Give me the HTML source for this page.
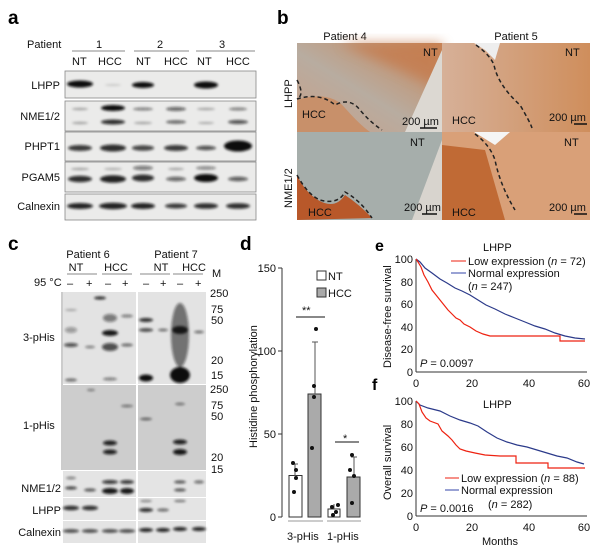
<!DOCTYPE html>
<html><head><meta charset="utf-8"><style>
html,body{margin:0;padding:0;background:#fff;}
svg{display:block;font-family:"Liberation Sans",Arial,sans-serif;}
</style></head><body>
<svg width="600" height="556" viewBox="0 0 600 556" xmlns="http://www.w3.org/2000/svg">
<defs>
<filter id="bl" x="-50%" y="-200%" width="200%" height="500%"><feGaussianBlur stdDeviation="1.3"/></filter>
<filter id="bl2" x="-20%" y="-20%" width="140%" height="140%"><feGaussianBlur stdDeviation="6"/></filter>
<linearGradient id="t1" x1="0" y1="1" x2="1" y2="0"><stop offset="0" stop-color="#c9a088"/><stop offset="0.45" stop-color="#b8aca0"/><stop offset="1" stop-color="#c98658"/></linearGradient>
<linearGradient id="t2" x1="0" y1="0" x2="1" y2="0"><stop offset="0" stop-color="#d6b098"/><stop offset="1" stop-color="#cf8e5c"/></linearGradient>
</defs>
<g fill="#000">
<text x="8" y="24" font-size="19" font-weight="bold">a</text>
<text x="277" y="24" font-size="19" font-weight="bold">b</text>
<text x="8" y="250" font-size="19" font-weight="bold">c</text>
<text x="240" y="250" font-size="19" font-weight="bold">d</text>
<text x="375" y="251" font-size="16" font-weight="bold">e</text>
<text x="372" y="390" font-size="16" font-weight="bold">f</text>
</g>
<!-- Panel a -->
<g font-size="11" fill="#111">
<text x="27" y="48">Patient</text>
<text x="96" y="48">1</text><text x="157" y="48">2</text><text x="219" y="48">3</text>
<line x1="72" y1="51" x2="125" y2="51" stroke="#888"/>
<line x1="134" y1="51" x2="189" y2="51" stroke="#888"/>
<line x1="196" y1="51" x2="255" y2="51" stroke="#888"/>
<text x="72" y="65">NT</text><text x="98" y="65">HCC</text>
<text x="136" y="65">NT</text><text x="164" y="65">HCC</text>
<text x="197" y="65">NT</text><text x="226" y="65">HCC</text>
<text x="60" y="89" text-anchor="end">LHPP</text>
<text x="60" y="120" text-anchor="end">NME1/2</text>
<text x="60" y="150" text-anchor="end">PHPT1</text>
<text x="60" y="181" text-anchor="end">PGAM5</text>
<text x="60" y="210" text-anchor="end">Calnexin</text>
</g>
<g fill="#ebebea" stroke="#888" stroke-width="0.8">
<rect x="65" y="71" width="191" height="27"/>
<rect x="65" y="101" width="191" height="30"/>
<rect x="65" y="132" width="191" height="29"/>
<rect x="65" y="162" width="191" height="30"/>
<rect x="65" y="194" width="191" height="26"/>
</g>
<g filter="url(#bl)" fill="#111">
<ellipse cx="80" cy="84" rx="13" ry="3.5"/><ellipse cx="143" cy="85" rx="11" ry="3"/><ellipse cx="206" cy="85" rx="12" ry="3.5"/>
<ellipse cx="113" cy="85" rx="8" ry="1" opacity="0.15"/>
<ellipse cx="80" cy="109" rx="8" ry="1.2" opacity="0.3"/><ellipse cx="113" cy="108" rx="12" ry="3"/>
<ellipse cx="143" cy="109" rx="10" ry="1.5" opacity="0.5"/><ellipse cx="176" cy="109" rx="10" ry="2" opacity="0.6"/>
<ellipse cx="206" cy="109" rx="9" ry="1.2" opacity="0.3"/><ellipse cx="238" cy="109" rx="9" ry="1.5" opacity="0.5"/>
<ellipse cx="80" cy="123" rx="8" ry="1.2" opacity="0.3"/><ellipse cx="113" cy="122" rx="12" ry="2.5" opacity="0.85"/>
<ellipse cx="143" cy="123" rx="9" ry="1.2" opacity="0.3"/><ellipse cx="176" cy="122" rx="10" ry="1.8" opacity="0.6"/>
<ellipse cx="206" cy="123" rx="8" ry="1" opacity="0.3"/><ellipse cx="238" cy="122" rx="10" ry="2" opacity="0.7"/>
<ellipse cx="80" cy="148" rx="12" ry="3" opacity="0.8"/><ellipse cx="113" cy="148" rx="13" ry="3.5" opacity="0.85"/>
<ellipse cx="143" cy="148" rx="11" ry="2.8" opacity="0.75"/><ellipse cx="176" cy="148" rx="12" ry="3" opacity="0.8"/>
<ellipse cx="206" cy="148" rx="10" ry="2.2" opacity="0.7"/><ellipse cx="238" cy="146" rx="14" ry="5.5"/>
<ellipse cx="80" cy="169" rx="9" ry="1.2" opacity="0.3"/><ellipse cx="113" cy="169" rx="9" ry="1.2" opacity="0.25"/>
<ellipse cx="143" cy="168" rx="10" ry="2.3" opacity="0.5"/><ellipse cx="176" cy="169" rx="8" ry="1.2" opacity="0.3"/>
<ellipse cx="206" cy="168" rx="10" ry="1.8" opacity="0.45"/>
<ellipse cx="80" cy="179" rx="12" ry="3.2" opacity="0.85"/><ellipse cx="113" cy="179" rx="13" ry="3.8" opacity="0.9"/>
<ellipse cx="143" cy="178" rx="11" ry="3.5" opacity="0.85"/><ellipse cx="176" cy="179" rx="10" ry="2.2" opacity="0.6"/>
<ellipse cx="206" cy="178" rx="12" ry="4"/><ellipse cx="238" cy="179" rx="10" ry="2.2" opacity="0.65"/>
<ellipse cx="80" cy="206" rx="13" ry="3" opacity="0.9"/><ellipse cx="113" cy="206" rx="14" ry="3.2" opacity="0.9"/>
<ellipse cx="143" cy="206" rx="12" ry="3" opacity="0.9"/><ellipse cx="176" cy="206" rx="11" ry="2.5" opacity="0.8"/>
<ellipse cx="206" cy="206" rx="12" ry="2.8" opacity="0.85"/><ellipse cx="238" cy="206" rx="12" ry="2.8" opacity="0.85"/>
</g>
<!-- Panel b -->
<g font-size="11" fill="#111">
<text x="345" y="40" text-anchor="middle">Patient 4</text>
<text x="516" y="40" text-anchor="middle">Patient 5</text>
<text transform="translate(292,108) rotate(-90)">LHPP</text>
<text transform="translate(292,208) rotate(-90)">NME1/2</text>
</g>
<rect x="297" y="43" width="145" height="89" fill="url(#t1)"/>
<path d="M340,43 L442,43 L442,90 L400,70Z" fill="#c5784a" opacity="0.7" filter="url(#bl2)"/>
<polygon points="405,132 442,50 442,132" fill="#dcd8d2"/>
<path d="M297,100 Q330,90 345,108 Q360,125 370,132 L297,132Z" fill="#c8906a"/>
<path d="M297,80 Q305,95 297,99 Q320,92 335,105 Q350,97 360,110 Q370,122 382,130" fill="none" stroke="#222" stroke-width="1.5" stroke-dasharray="4,3"/>
<rect x="442" y="43" width="148" height="89" fill="url(#t2)"/>
<polygon points="474,43 500,43 495,60 485,50" fill="#eee"/>
<path d="M476,45 Q490,55 494,65 Q498,85 520,105 Q530,122 532,128" fill="none" stroke="#222" stroke-width="1.5" stroke-dasharray="4,3"/>
<rect x="297" y="132" width="145" height="88" fill="#a6aeab"/>
<path d="M297,175 Q305,192 318,200 Q335,210 345,195 Q360,205 372,218 L297,220Z" fill="#b8582a"/>
<path d="M297,175 Q308,195 320,200 Q338,205 345,192 Q360,200 372,218" fill="none" stroke="#222" stroke-width="1.5" stroke-dasharray="4,3"/>
<polygon points="412,220 442,140 442,220" fill="#d8d4ce"/>
<rect x="442" y="132" width="148" height="88" fill="#d9a078"/>
<path d="M442,145 L485,150 L505,220 L442,220Z" fill="#c06a35"/>
<polygon points="474,132 510,132 495,145" fill="#f5f5f5"/>
<path d="M475,134 Q490,145 495,160 Q500,185 515,210" fill="none" stroke="#222" stroke-width="1.5" stroke-dasharray="4,3"/>
<g font-size="11" fill="#111">
<text x="423" y="56">NT</text><text x="565" y="56">NT</text>
<text x="302" y="118">HCC</text><text x="452" y="124">HCC</text>
<text x="402" y="125">200 µm</text><text x="549" y="121">200 µm</text>
<text x="410" y="146">NT</text><text x="564" y="146">NT</text>
<text x="308" y="216">HCC</text><text x="452" y="216">HCC</text>
<text x="404" y="211">200 µm</text><text x="549" y="211">200 µm</text>
</g>
<g stroke="#111" stroke-width="1.5"><line x1="420" y1="128" x2="437" y2="128"/><line x1="574" y1="124" x2="587" y2="124"/><line x1="422" y1="214" x2="437" y2="214"/><line x1="574" y1="214" x2="587" y2="214"/></g>
<!-- Panel c -->
<g font-size="11" fill="#111">
<text x="88" y="258" text-anchor="middle">Patient 6</text>
<text x="176" y="258" text-anchor="middle">Patient 7</text>
<text x="76" y="271" text-anchor="middle">NT</text><text x="116" y="271" text-anchor="middle">HCC</text>
<text x="161" y="271" text-anchor="middle">NT</text><text x="194" y="271" text-anchor="middle">HCC</text>
<line x1="67" y1="274" x2="97" y2="274" stroke="#888"/><line x1="102" y1="274" x2="132" y2="274" stroke="#888"/>
<line x1="140" y1="274" x2="170" y2="274" stroke="#888"/><line x1="173" y1="274" x2="203" y2="274" stroke="#888"/>
<text x="34" y="286">95 °C</text>
<text x="67" y="287">–</text><text x="86" y="287">+</text><text x="105" y="287">–</text><text x="122" y="287">+</text>
<text x="143" y="287">–</text><text x="160" y="287">+</text><text x="177" y="287">–</text><text x="195" y="287">+</text>
<text x="212" y="277">M</text>
<text x="23" y="341">3-pHis</text><text x="23" y="429">1-pHis</text>
<text x="61" y="492" text-anchor="end">NME1/2</text>
<text x="61" y="514" text-anchor="end">LHPP</text>
<text x="61" y="536" text-anchor="end">Calnexin</text>
</g>
<line x1="62" y1="292" x2="62" y2="470" stroke="#999"/>
<g fill="#e3e3e3"><rect x="63" y="292" width="73" height="92"/><rect x="138" y="292" width="68" height="92"/></g>
<g fill="#cdcdcd"><rect x="63" y="385" width="73" height="85"/><rect x="138" y="385" width="68" height="85"/></g>
<g fill="#e4e4e4"><rect x="63" y="471" width="73" height="26"/><rect x="138" y="471" width="68" height="26"/>
<rect x="63" y="498" width="73" height="22"/><rect x="138" y="498" width="68" height="22"/>
<rect x="63" y="521" width="73" height="22"/><rect x="138" y="521" width="68" height="22"/></g>
<g filter="url(#bl)" fill="#111">
<ellipse cx="71" cy="310" rx="6" ry="1" opacity="0.3"/><ellipse cx="71" cy="330" rx="6" ry="3" opacity="0.35"/>
<ellipse cx="71" cy="345" rx="7" ry="2" opacity="0.7"/><ellipse cx="90" cy="347" rx="5" ry="1.2" opacity="0.5"/>
<ellipse cx="71" cy="380" rx="6" ry="1.5" opacity="0.6"/><ellipse cx="100" cy="298" rx="6" ry="1.5" opacity="0.9"/>
<ellipse cx="110" cy="318" rx="7" ry="4" opacity="0.5"/><ellipse cx="110" cy="333" rx="8" ry="3" opacity="0.95"/>
<ellipse cx="110" cy="347" rx="8" ry="4" opacity="0.7"/><ellipse cx="110" cy="379" rx="7" ry="1.5" opacity="0.5"/>
<ellipse cx="127" cy="316" rx="6" ry="1.5" opacity="0.5"/><ellipse cx="127" cy="345" rx="6" ry="1.5" opacity="0.6"/>
<ellipse cx="146" cy="320" rx="7" ry="2" opacity="0.85"/><ellipse cx="146" cy="330" rx="7" ry="1.8" opacity="0.75"/>
<ellipse cx="146" cy="378" rx="7" ry="3.5"/><ellipse cx="163" cy="330" rx="5" ry="1.2" opacity="0.6"/>
<ellipse cx="180" cy="335" rx="9" ry="32" opacity="0.55"/><ellipse cx="180" cy="375" rx="10" ry="8"/>
<ellipse cx="180" cy="330" rx="8" ry="4" opacity="0.9"/><ellipse cx="199" cy="332" rx="5" ry="1.2" opacity="0.6"/>
<ellipse cx="91" cy="390" rx="4" ry="1" opacity="0.5"/><ellipse cx="110" cy="443" rx="7" ry="2.5" opacity="0.9"/>
<ellipse cx="110" cy="452" rx="7" ry="2.5" opacity="0.9"/><ellipse cx="127" cy="406" rx="6" ry="1.2" opacity="0.5"/>
<ellipse cx="146" cy="419" rx="6" ry="1.3" opacity="0.6"/><ellipse cx="180" cy="442" rx="7" ry="2.5" opacity="0.9"/>
<ellipse cx="180" cy="452" rx="7" ry="3" opacity="0.95"/><ellipse cx="180" cy="404" rx="5" ry="1.2" opacity="0.5"/>
<ellipse cx="71" cy="478" rx="5" ry="1.2" opacity="0.5"/><ellipse cx="71" cy="488" rx="6" ry="1.5" opacity="0.8"/>
<ellipse cx="90" cy="490" rx="6" ry="1.5" opacity="0.7"/><ellipse cx="110" cy="482" rx="8" ry="2" opacity="0.8"/>
<ellipse cx="110" cy="491" rx="8" ry="3" opacity="0.95"/><ellipse cx="127" cy="482" rx="7" ry="2" opacity="0.8"/>
<ellipse cx="127" cy="491" rx="7" ry="3" opacity="0.95"/><ellipse cx="180" cy="482" rx="6" ry="1.5" opacity="0.7"/>
<ellipse cx="180" cy="490" rx="6" ry="1.5" opacity="0.7"/><ellipse cx="199" cy="482" rx="5" ry="1.5" opacity="0.6"/>
<ellipse cx="71" cy="508" rx="8" ry="2.3" opacity="0.85"/><ellipse cx="90" cy="508" rx="8" ry="2.3" opacity="0.85"/>
<ellipse cx="146" cy="510" rx="7" ry="2" opacity="0.85"/><ellipse cx="163" cy="510" rx="6" ry="1.5" opacity="0.6"/>
<ellipse cx="146" cy="501" rx="6" ry="1" opacity="0.5"/><ellipse cx="180" cy="501" rx="6" ry="1" opacity="0.6"/>
<ellipse cx="71" cy="531" rx="8" ry="1.8" opacity="0.75"/><ellipse cx="90" cy="531" rx="8" ry="1.8" opacity="0.75"/>
<ellipse cx="110" cy="531" rx="8" ry="1.8" opacity="0.75"/><ellipse cx="127" cy="531" rx="8" ry="1.8" opacity="0.75"/>
<ellipse cx="146" cy="530" rx="7" ry="2" opacity="0.9"/><ellipse cx="163" cy="530" rx="7" ry="2" opacity="0.9"/>
<ellipse cx="180" cy="529" rx="7" ry="2" opacity="0.9"/><ellipse cx="199" cy="529" rx="7" ry="2" opacity="0.9"/>
</g>
<g font-size="11" fill="#111">
<text x="210" y="297">250</text><text x="211" y="313">75</text><text x="211" y="324">50</text>
<text x="211" y="364">20</text><text x="211" y="379">15</text>
<text x="210" y="393">250</text><text x="211" y="409">75</text><text x="211" y="420">50</text>
<text x="211" y="461">20</text><text x="211" y="473">15</text>
</g>
<!-- Panel d -->
<g font-size="11" fill="#111">
<line x1="282" y1="268" x2="282" y2="517" stroke="#333"/>
<line x1="278" y1="268" x2="282" y2="268" stroke="#333"/><line x1="278" y1="351" x2="282" y2="351" stroke="#333"/>
<line x1="278" y1="434" x2="282" y2="434" stroke="#333"/><line x1="278" y1="517" x2="282" y2="517" stroke="#333"/>
<text x="276" y="272" text-anchor="end">150</text><text x="276" y="355" text-anchor="end">100</text>
<text x="276" y="438" text-anchor="end">50</text><text x="276" y="521" text-anchor="end">0</text>
<text transform="translate(257,448) rotate(-90)">Histidine phosphorylation</text>
<rect x="317" y="271" width="9" height="9" fill="#fff" stroke="#333"/><text x="328" y="280">NT</text>
<rect x="317" y="288" width="9" height="9" fill="#aaa" stroke="#333"/><text x="328" y="297">HCC</text>
<rect x="289" y="475.5" width="13" height="41.5" fill="#fff" stroke="#333"/>
<rect x="308" y="394" width="13" height="123" fill="#aaa" stroke="#333"/>
<rect x="328" y="509" width="12" height="8" fill="#fff" stroke="#333"/>
<rect x="347" y="477" width="13" height="40" fill="#aaa" stroke="#333"/>
<g stroke="#555"><line x1="295" y1="464" x2="295" y2="476"/><line x1="292" y1="464" x2="298" y2="464"/>
<line x1="315" y1="342" x2="315" y2="394"/><line x1="312" y1="342" x2="318" y2="342"/>
<line x1="334" y1="504" x2="334" y2="509"/><line x1="354" y1="457" x2="354" y2="477"/><line x1="351" y1="457" x2="357" y2="457"/></g>
<g fill="#111"><circle cx="293" cy="463" r="2"/><circle cx="296" cy="470" r="2"/><circle cx="296" cy="478" r="2"/><circle cx="294" cy="492" r="2"/>
<circle cx="316" cy="329" r="2"/><circle cx="314" cy="386" r="2"/><circle cx="314" cy="397" r="2"/><circle cx="312" cy="448" r="2"/>
<circle cx="332" cy="507" r="2"/><circle cx="336" cy="512" r="2"/><circle cx="338" cy="505" r="2"/><circle cx="333" cy="515" r="2"/>
<circle cx="352" cy="455" r="2"/><circle cx="350" cy="470" r="2"/><circle cx="354" cy="476" r="2"/><circle cx="352" cy="503" r="2"/></g>
<line x1="296" y1="317" x2="325" y2="317" stroke="#111"/><text x="302" y="314">**</text>
<line x1="335" y1="442" x2="359" y2="442" stroke="#111"/><text x="343" y="442">*</text>
<line x1="288" y1="521" x2="323" y2="521" stroke="#999"/><line x1="327" y1="521" x2="361" y2="521" stroke="#999"/>
<text x="287" y="540">3-pHis</text><text x="327" y="540">1-pHis</text>
</g>
<!-- Panel e -->
<g font-size="11" fill="#111">
<line x1="416" y1="259" x2="416" y2="372" stroke="#333"/><line x1="416" y1="372" x2="587" y2="372" stroke="#333"/>
<text x="413" y="263" text-anchor="end">100</text><text x="413" y="286" text-anchor="end">80</text>
<text x="413" y="308" text-anchor="end">60</text><text x="413" y="331" text-anchor="end">40</text>
<text x="413" y="353" text-anchor="end">20</text><text x="413" y="376" text-anchor="end">0</text>
<text x="416" y="387" text-anchor="middle">0</text><text x="472" y="387" text-anchor="middle">20</text>
<text x="529" y="387" text-anchor="middle">40</text><text x="584" y="387" text-anchor="middle">60</text>
<text transform="translate(391,368) rotate(-90)">Disease-free survival</text>
<text x="483" y="251">LHPP</text>
<line x1="451" y1="261" x2="466" y2="261" stroke="#e21"/><text x="468" y="265">Low expression (<tspan font-style="italic">n</tspan> = 72)</text>
<line x1="451" y1="273" x2="466" y2="273" stroke="#34a"/><text x="468" y="277">Normal expression</text>
<text x="468" y="290">(<tspan font-style="italic">n</tspan> = 247)</text>
<text x="420" y="367"><tspan font-style="italic">P</tspan> = 0.0097</text>
<polyline fill="none" stroke="#2b3a8a" stroke-width="1.2" points="416,259 420,262 425,268 432,273 440,279 447,283 455,288 462,291 470,295 478,300 486,305 495,309 505,314 515,318 525,322 535,326 545,329 555,333 565,336 575,338 585,339"/>
<polyline fill="none" stroke="#e21" stroke-width="1.2" points="416,259 418,262 421,267 424,275 428,282 432,290 436,295 440,300 444,305 448,310 452,314 456,318 460,320 464,324 470,327 476,331 483,334 490,336 560,336 560,341 585,341"/>
</g>
<!-- Panel f -->
<g font-size="11" fill="#111">
<line x1="416" y1="401" x2="416" y2="516" stroke="#333"/><line x1="416" y1="516" x2="587" y2="516" stroke="#333"/>
<text x="413" y="405" text-anchor="end">100</text><text x="413" y="428" text-anchor="end">80</text>
<text x="413" y="451" text-anchor="end">60</text><text x="413" y="474" text-anchor="end">40</text>
<text x="413" y="497" text-anchor="end">20</text><text x="413" y="520" text-anchor="end">0</text>
<text x="416" y="531" text-anchor="middle">0</text><text x="472" y="531" text-anchor="middle">20</text>
<text x="529" y="531" text-anchor="middle">40</text><text x="584" y="531" text-anchor="middle">60</text>
<text x="500" y="545" text-anchor="middle">Months</text>
<text transform="translate(391,500) rotate(-90)">Overall survival</text>
<text x="483" y="408">LHPP</text>
<line x1="445" y1="478" x2="459" y2="478" stroke="#e21"/><text x="461" y="482">Low expression (<tspan font-style="italic">n</tspan> = 88)</text>
<line x1="445" y1="490" x2="459" y2="490" stroke="#34a"/><text x="461" y="494">Normal expression</text>
<text x="488" y="508">(<tspan font-style="italic">n</tspan> = 282)</text>
<text x="420" y="512"><tspan font-style="italic">P</tspan> = 0.0016</text>
<polyline fill="none" stroke="#2b3a8a" stroke-width="1.2" points="416,401 420,405 428,408 440,411 450,416 460,420 470,423 478,426 487,432 497,438 507,442 517,445 527,447 537,450 547,453 557,456 567,458 577,462 584,464"/>
<polyline fill="none" stroke="#e21" stroke-width="1.2" points="416,401 419,404 422,412 426,418 430,421 438,424 442,431 448,436 452,440 456,445 460,449 466,451 475,453 485,455 500,456 516,456 516,463 548,463 548,468 585,468"/>
</g>
</svg>
</body></html>
